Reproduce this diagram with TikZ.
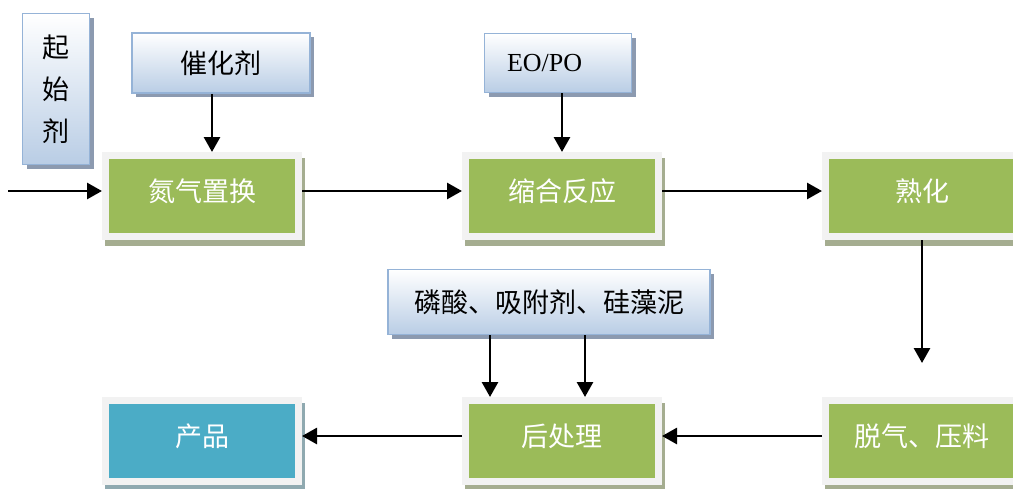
\documentclass[tikz,border=0pt]{standalone}
\usepackage{fontspec}
\newfontfamily\cjk{Noto Sans CJK SC}
\newfontfamily\eofont{Liberation Serif}
\usetikzlibrary{arrows.meta,shadows}
\definecolor{stepgreen}{HTML}{9BBB59}
\definecolor{prodblue}{HTML}{4BACC6}
\definecolor{framegray}{HTML}{F2F2F2}
\definecolor{greenshadow}{HTML}{A5AD90}
\definecolor{prodshadow}{HTML}{8FA9B0}
\definecolor{feedbottom}{HTML}{B9CDE5}
\definecolor{feedline}{HTML}{95B3D7}
\definecolor{feedshadow}{HTML}{8C9AB0}

\begin{document}
\begin{tikzpicture}[x=1pt,y=-1pt,->,>={Triangle[length=15pt,width=16pt]},line width=2.8pt,
    proc/.style={rectangle,fill=stepgreen,draw=framegray,line width=7pt,
      minimum width=193pt,minimum height=81pt,text=white,
      text height=24pt,text depth=14pt,
      font=\cjk\fontsize{27}{32}\selectfont,
      drop shadow={shadow xshift=3pt,shadow yshift=-6pt,fill=#1,draw=#1,
        line width=7pt,opacity=1}},
    proc/.default=greenshadow,
    feed/.style={rectangle,top color=white,bottom color=feedbottom,
      draw=feedline,line width=1.5pt,text=black,inner sep=0pt,
      font=\cjk\fontsize{27}{32}\selectfont,
      drop shadow={shadow xshift=4pt,shadow yshift=-4pt,fill=feedshadow,
        opacity=1}}]
      \useasboundingbox (0,0) rectangle (1013,488);

      \node[feed,minimum width=67pt,minimum height=151pt,align=center,
        font=\cjk\fontsize{27}{42}\selectfont] (start) at (56,89) {起\\始\\剂};
      \node[feed,minimum width=178pt,minimum height=60pt] (cat) at (221,63) {催化剂};
      \node[feed,minimum width=147pt,minimum height=59pt,text width=102pt,
        align=left,font=\eofont\fontsize{26}{30}\selectfont] (eopo) at (558,63) {EO/PO};
      \node[feed,minimum width=322pt,minimum height=65pt] (aux) at (549,302) {磷酸、吸附剂、硅藻泥};

      \node[proc] (purge) at (202,196) {氮气置换};
      \node[proc] (react) at (562,196) {缩合反应};
      \node[proc] (age) at (922,196) {熟化};
      \node[proc] (degas) at (922,441) {脱气、压料};
      \node[proc] (post) at (562,441) {后处理};
      \node[proc=prodshadow,fill=prodblue] (prod) at (202,441) {产品};

      \coordinate (in) at (8,191);

      \path
      (in) edge (in -| purge.west)
      ([xshift=-9pt]cat.south) edge ([xshift=-9pt]cat.south |- purge.north)
      ([yshift=5pt]purge.east) edge ([yshift=5pt]react.west)
      (eopo.south -| react) edge (react)
      ([yshift=5pt]react.east) edge ([yshift=5pt]age.west)
      (age) edge [shorten >=34pt] (degas)
      ([yshift=5pt]degas.west) edge ([yshift=5pt]post.east)
      ([xshift=-59pt]aux.south) edge ([xshift=-59pt]aux.south |- post.north)
      ([xshift=36pt]aux.south) edge ([xshift=36pt]aux.south |- post.north)
      ([yshift=5pt]post.west) edge ([yshift=5pt]prod.east)
      ;
\end{tikzpicture}
\end{document}
